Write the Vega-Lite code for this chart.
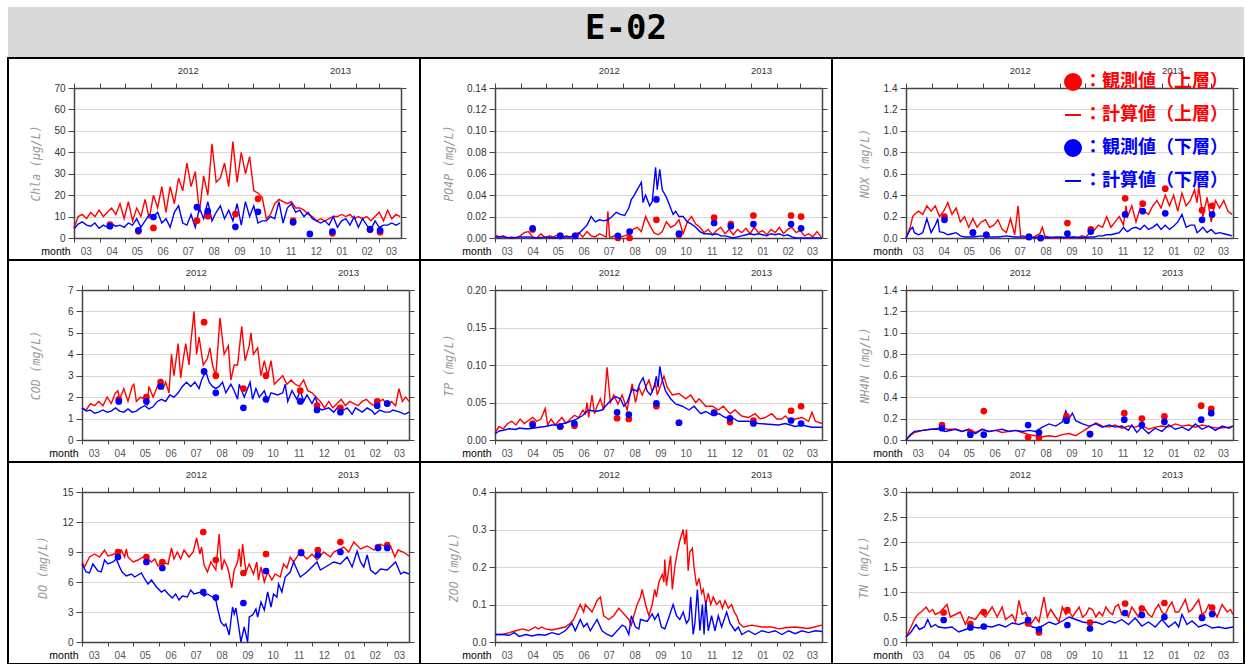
{
"$schema":"https://vega.github.io/schema/vega-lite/v6.json",
"padding":{"left":7,"top":7,"right":2,"bottom":1},
"background":"white",
"spacing":0,
"vconcat":[
{"width":1236,"height":50,"view":{"fill":"#d9d9d9"},"data":{"values":[{"t":"E-02"}]},"mark":{"type":"text","font":"DejaVu Sans Mono","fontWeight":"bold","fontSize":34,"baseline":"alphabetic","dy":7,"color":"#000"},"encoding":{"text":{"field":"t","type":"nominal"}}},
{"columns":3,"spacing":0,"bounds":"flush",
"resolve":{"scale":{"shape":"independent","fill":"independent","stroke":"independent"},"legend":{"shape":"independent","fill":"independent","stroke":"independent"}},
"concat":[
{"width":412,"height":202,"resolve":{"axis":{"x":"independent","y":"independent"}},"layer":[
{"data":{"name":"chla_u"},"mark":{"type":"line","color":"#ff0000","strokeWidth":1.4},"encoding":{"x":{"field":"day","type":"quantitative","scale":{"domain":[0,391],"range":[66,393],"nice":false,"zero":false},"axis":{"orient":"bottom","offset":-22,"values":[14,45,75,106,136,167,198,228,259,289,320,350,379],"labelExpr":"timeFormat(datetime(2012, 2, 1 + datum.value), '%m')","ticks":false,"tickSize":0,"domain":false,"labelPadding":8,"labelColor":"#555","title":"month","titleX":62}},"y":{"field":"v","type":"quantitative","scale":{"domain":[0,70],"range":[180,30],"nice":false,"zero":false},"axis":{"orient":"left","offset":-66,"values":[0,10,20,30,40,50,60,70],"format":"d","grid":true,"tickSize":6,"labelPadding":3,"title":"Chla (μg/L)","titleX":-38}}}},
{"data":{"name":"chla_l"},"mark":{"type":"line","color":"#0000ff","strokeWidth":1.4},"encoding":{"x":{"field":"day","type":"quantitative","axis":{"orient":"bottom","offset":-22,"values":[0,31,61,92,122,153,184,214,245,275,306,337,365],"labels":false,"tickSize":4,"title":null}},"y":{"field":"v","type":"quantitative","axis":{"orient":"right","offset":-19,"values":[0,10,20,30,40,50,60,70],"labels":false,"tickSize":5,"title":null}}}},
{"data":{"name":"chla_obs"},"mark":{"type":"point","filled":true,"color":"#ff0000","size":45,"opacity":1},"encoding":{"x":{"field":"day","type":"quantitative","axis":{"orient":"top","offset":-30,"values":[0,31,61,92,122,153,184,214,245,275,306,337,365],"labels":false,"tickSize":5,"title":null}},"y":{"field":"u","type":"quantitative","axis":null}}},
{"data":{"name":"chla_obs"},"mark":{"type":"point","filled":true,"color":"#0000ff","size":45,"opacity":1},"encoding":{"x":{"field":"day","type":"quantitative","axis":{"orient":"top","offset":-30,"values":[136,318],"labelExpr":"datum.value < 200 ? '2012' : '2013'","ticks":false,"domain":false,"labelPadding":13,"labelFontSize":9.5,"title":null}},"y":{"field":"l","type":"quantitative","axis":null}}}
]},
{"width":412,"height":202,"resolve":{"axis":{"x":"independent","y":"independent"}},"layer":[
{"data":{"name":"po4p_u"},"mark":{"type":"line","color":"#ff0000","strokeWidth":1.4},"encoding":{"x":{"field":"day","type":"quantitative","scale":{"domain":[0,391],"range":[75,402],"nice":false,"zero":false},"axis":{"orient":"bottom","offset":-22,"values":[14,45,75,106,136,167,198,228,259,289,320,350,379],"labelExpr":"timeFormat(datetime(2012, 2, 1 + datum.value), '%m')","ticks":false,"tickSize":0,"domain":false,"labelPadding":8,"labelColor":"#555","title":"month","titleX":71}},"y":{"field":"v","type":"quantitative","scale":{"domain":[0,0.14],"range":[180,30],"nice":false,"zero":false},"axis":{"orient":"left","offset":-75,"values":[0,0.02,0.04,0.06,0.08,0.1,0.12,0.14],"format":".2f","grid":true,"tickSize":6,"labelPadding":3,"title":"PO4P (mg/L)","titleX":-46}}}},
{"data":{"name":"po4p_l"},"mark":{"type":"line","color":"#0000ff","strokeWidth":1.4},"encoding":{"x":{"field":"day","type":"quantitative","axis":{"orient":"bottom","offset":-22,"values":[0,31,61,92,122,153,184,214,245,275,306,337,365],"labels":false,"tickSize":4,"title":null}},"y":{"field":"v","type":"quantitative","axis":{"orient":"right","offset":-10,"values":[0,0.02,0.04,0.06,0.08,0.1,0.12,0.14],"labels":false,"tickSize":5,"title":null}}}},
{"data":{"name":"po4p_obs"},"mark":{"type":"point","filled":true,"color":"#ff0000","size":45,"opacity":1},"encoding":{"x":{"field":"day","type":"quantitative","axis":{"orient":"top","offset":-30,"values":[0,31,61,92,122,153,184,214,245,275,306,337,365],"labels":false,"tickSize":5,"title":null}},"y":{"field":"u","type":"quantitative","axis":null}}},
{"data":{"name":"po4p_obs"},"mark":{"type":"point","filled":true,"color":"#0000ff","size":45,"opacity":1},"encoding":{"x":{"field":"day","type":"quantitative","axis":{"orient":"top","offset":-30,"values":[136,318],"labelExpr":"datum.value < 200 ? '2012' : '2013'","ticks":false,"domain":false,"labelPadding":13,"labelFontSize":9.5,"title":null}},"y":{"field":"l","type":"quantitative","axis":null}}}
]},
{"width":412,"height":202,"resolve":{"axis":{"x":"independent","y":"independent"}},"layer":[
{"data":{"name":"nox_u"},"mark":{"type":"line","color":"#ff0000","strokeWidth":1.4},"encoding":{"x":{"field":"day","type":"quantitative","scale":{"domain":[0,391],"range":[74,401],"nice":false,"zero":false},"axis":{"orient":"bottom","offset":-22,"values":[14,45,75,106,136,167,198,228,259,289,320,350,379],"labelExpr":"timeFormat(datetime(2012, 2, 1 + datum.value), '%m')","ticks":false,"tickSize":0,"domain":false,"labelPadding":8,"labelColor":"#555","title":"month","titleX":70}},"y":{"field":"v","type":"quantitative","scale":{"domain":[0,1.4],"range":[180,30],"nice":false,"zero":false},"axis":{"orient":"left","offset":-74,"values":[0,0.2,0.4,0.6,0.8,1.0,1.2,1.4],"format":".1f","grid":true,"tickSize":6,"labelPadding":3,"title":"NOX (mg/L)","titleX":-41}}}},
{"data":{"name":"nox_l"},"mark":{"type":"line","color":"#0000ff","strokeWidth":1.4},"encoding":{"x":{"field":"day","type":"quantitative","axis":{"orient":"bottom","offset":-22,"values":[0,31,61,92,122,153,184,214,245,275,306,337,365],"labels":false,"tickSize":4,"title":null}},"y":{"field":"v","type":"quantitative","axis":{"orient":"right","offset":-11,"values":[0,0.2,0.4,0.6,0.8,1.0,1.2,1.4],"labels":false,"tickSize":5,"title":null}}}},
{"data":{"name":"nox_obs"},"mark":{"type":"point","filled":true,"color":"#ff0000","size":45,"opacity":1},"encoding":{"x":{"field":"day","type":"quantitative","axis":{"orient":"top","offset":-30,"values":[0,31,61,92,122,153,184,214,245,275,306,337,365],"labels":false,"tickSize":5,"title":null}},"y":{"field":"u","type":"quantitative","axis":null}}},
{"data":{"name":"nox_obs"},"mark":{"type":"point","filled":true,"color":"#0000ff","size":45,"opacity":1},"encoding":{"x":{"field":"day","type":"quantitative","axis":{"orient":"top","offset":-30,"values":[136,318],"labelExpr":"datum.value < 200 ? '2012' : '2013'","ticks":false,"domain":false,"labelPadding":13,"labelFontSize":9.5,"title":null}},"y":{"field":"l","type":"quantitative","axis":null}}},
{"data":{"name":"legend"},"transform":[{"filter":"false"}],"mark":{"type":"point","filled":true,"opacity":1},"encoding":{
"shape":{"field":"k","type":"nominal","scale":{"domain":["：観測値（上層）","：計算値（上層）","：観測値（下層）","：計算値（下層）"],"range":["circle","stroke","circle","stroke"]},"legend":{"title":null,"orient":"none","legendX":232,"legendY":15,"symbolSize":256,"symbolStrokeWidth":2,"symbolOpacity":1,"labelFont":"Noto Sans CJK JP","labelFontSize":18,"labelFontWeight":"bold","labelColor":{"expr":"indexof(datum.label, '上層') >= 0 ? '#ff0000' : '#0000ff'"},"rowPadding":12,"labelOffset":2,"padding":0,"labelLimit":300}},
"fill":{"field":"k","type":"nominal","scale":{"domain":["：観測値（上層）","：計算値（上層）","：観測値（下層）","：計算値（下層）"],"range":["#ff0000","#ff0000","#0000ff","#0000ff"]},"legend":{"title":null,"orient":"none","legendX":232,"legendY":15,"symbolSize":256,"symbolStrokeWidth":2,"symbolOpacity":1,"labelFont":"Noto Sans CJK JP","labelFontSize":18,"labelFontWeight":"bold","labelColor":{"expr":"indexof(datum.label, '上層') >= 0 ? '#ff0000' : '#0000ff'"},"rowPadding":12,"labelOffset":2,"padding":0,"labelLimit":300}},
"stroke":{"field":"k","type":"nominal","scale":{"domain":["：観測値（上層）","：計算値（上層）","：観測値（下層）","：計算値（下層）"],"range":["#ff0000","#ff0000","#0000ff","#0000ff"]},"legend":{"title":null,"orient":"none","legendX":232,"legendY":15,"symbolSize":256,"symbolStrokeWidth":2,"symbolOpacity":1,"labelFont":"Noto Sans CJK JP","labelFontSize":18,"labelFontWeight":"bold","labelColor":{"expr":"indexof(datum.label, '上層') >= 0 ? '#ff0000' : '#0000ff'"},"rowPadding":12,"labelOffset":2,"padding":0,"labelLimit":300}}}}
]},
{"width":412,"height":202,"resolve":{"axis":{"x":"independent","y":"independent"}},"layer":[
{"data":{"name":"cod_u"},"mark":{"type":"line","color":"#ff0000","strokeWidth":1.4},"encoding":{"x":{"field":"day","type":"quantitative","scale":{"domain":[0,391],"range":[74,401],"nice":false,"zero":false},"axis":{"orient":"bottom","offset":-22,"values":[14,45,75,106,136,167,198,228,259,289,320,350,379],"labelExpr":"timeFormat(datetime(2012, 2, 1 + datum.value), '%m')","ticks":false,"tickSize":0,"domain":false,"labelPadding":8,"labelColor":"#555","title":"month","titleX":70}},"y":{"field":"v","type":"quantitative","scale":{"domain":[0,7],"range":[180,30],"nice":false,"zero":false},"axis":{"orient":"left","offset":-74,"values":[0,1,2,3,4,5,6,7],"format":"d","grid":true,"tickSize":6,"labelPadding":3,"title":"COD (mg/L)","titleX":-46}}}},
{"data":{"name":"cod_l"},"mark":{"type":"line","color":"#0000ff","strokeWidth":1.4},"encoding":{"x":{"field":"day","type":"quantitative","axis":{"orient":"bottom","offset":-22,"values":[0,31,61,92,122,153,184,214,245,275,306,337,365],"labels":false,"tickSize":4,"title":null}},"y":{"field":"v","type":"quantitative","axis":{"orient":"right","offset":-11,"values":[0,1,2,3,4,5,6,7],"labels":false,"tickSize":5,"title":null}}}},
{"data":{"name":"cod_obs"},"mark":{"type":"point","filled":true,"color":"#ff0000","size":45,"opacity":1},"encoding":{"x":{"field":"day","type":"quantitative","axis":{"orient":"top","offset":-30,"values":[0,31,61,92,122,153,184,214,245,275,306,337,365],"labels":false,"tickSize":5,"title":null}},"y":{"field":"u","type":"quantitative","axis":null}}},
{"data":{"name":"cod_obs"},"mark":{"type":"point","filled":true,"color":"#0000ff","size":45,"opacity":1},"encoding":{"x":{"field":"day","type":"quantitative","axis":{"orient":"top","offset":-30,"values":[136,318],"labelExpr":"datum.value < 200 ? '2012' : '2013'","ticks":false,"domain":false,"labelPadding":13,"labelFontSize":9.5,"title":null}},"y":{"field":"l","type":"quantitative","axis":null}}}
]},
{"width":412,"height":202,"resolve":{"axis":{"x":"independent","y":"independent"}},"layer":[
{"data":{"name":"tp_u"},"mark":{"type":"line","color":"#ff0000","strokeWidth":1.4},"encoding":{"x":{"field":"day","type":"quantitative","scale":{"domain":[0,391],"range":[75,402],"nice":false,"zero":false},"axis":{"orient":"bottom","offset":-22,"values":[14,45,75,106,136,167,198,228,259,289,320,350,379],"labelExpr":"timeFormat(datetime(2012, 2, 1 + datum.value), '%m')","ticks":false,"tickSize":0,"domain":false,"labelPadding":8,"labelColor":"#555","title":"month","titleX":71}},"y":{"field":"v","type":"quantitative","scale":{"domain":[0,0.2],"range":[180,30],"nice":false,"zero":false},"axis":{"orient":"left","offset":-75,"values":[0,0.05,0.1,0.15,0.2],"format":".2f","grid":true,"tickSize":6,"labelPadding":3,"title":"TP (mg/L)","titleX":-46}}}},
{"data":{"name":"tp_l"},"mark":{"type":"line","color":"#0000ff","strokeWidth":1.4},"encoding":{"x":{"field":"day","type":"quantitative","axis":{"orient":"bottom","offset":-22,"values":[0,31,61,92,122,153,184,214,245,275,306,337,365],"labels":false,"tickSize":4,"title":null}},"y":{"field":"v","type":"quantitative","axis":{"orient":"right","offset":-10,"values":[0,0.05,0.1,0.15,0.2],"labels":false,"tickSize":5,"title":null}}}},
{"data":{"name":"tp_obs"},"mark":{"type":"point","filled":true,"color":"#ff0000","size":45,"opacity":1},"encoding":{"x":{"field":"day","type":"quantitative","axis":{"orient":"top","offset":-30,"values":[0,31,61,92,122,153,184,214,245,275,306,337,365],"labels":false,"tickSize":5,"title":null}},"y":{"field":"u","type":"quantitative","axis":null}}},
{"data":{"name":"tp_obs"},"mark":{"type":"point","filled":true,"color":"#0000ff","size":45,"opacity":1},"encoding":{"x":{"field":"day","type":"quantitative","axis":{"orient":"top","offset":-30,"values":[136,318],"labelExpr":"datum.value < 200 ? '2012' : '2013'","ticks":false,"domain":false,"labelPadding":13,"labelFontSize":9.5,"title":null}},"y":{"field":"l","type":"quantitative","axis":null}}}
]},
{"width":412,"height":202,"resolve":{"axis":{"x":"independent","y":"independent"}},"layer":[
{"data":{"name":"nh4n_u"},"mark":{"type":"line","color":"#ff0000","strokeWidth":1.4},"encoding":{"x":{"field":"day","type":"quantitative","scale":{"domain":[0,391],"range":[74,401],"nice":false,"zero":false},"axis":{"orient":"bottom","offset":-22,"values":[14,45,75,106,136,167,198,228,259,289,320,350,379],"labelExpr":"timeFormat(datetime(2012, 2, 1 + datum.value), '%m')","ticks":false,"tickSize":0,"domain":false,"labelPadding":8,"labelColor":"#555","title":"month","titleX":70}},"y":{"field":"v","type":"quantitative","scale":{"domain":[0,1.4],"range":[180,30],"nice":false,"zero":false},"axis":{"orient":"left","offset":-74,"values":[0,0.2,0.4,0.6,0.8,1.0,1.2,1.4],"format":".1f","grid":true,"tickSize":6,"labelPadding":3,"title":"NH4N (mg/L)","titleX":-41}}}},
{"data":{"name":"nh4n_l"},"mark":{"type":"line","color":"#0000ff","strokeWidth":1.4},"encoding":{"x":{"field":"day","type":"quantitative","axis":{"orient":"bottom","offset":-22,"values":[0,31,61,92,122,153,184,214,245,275,306,337,365],"labels":false,"tickSize":4,"title":null}},"y":{"field":"v","type":"quantitative","axis":{"orient":"right","offset":-11,"values":[0,0.2,0.4,0.6,0.8,1.0,1.2,1.4],"labels":false,"tickSize":5,"title":null}}}},
{"data":{"name":"nh4n_obs"},"mark":{"type":"point","filled":true,"color":"#ff0000","size":45,"opacity":1},"encoding":{"x":{"field":"day","type":"quantitative","axis":{"orient":"top","offset":-30,"values":[0,31,61,92,122,153,184,214,245,275,306,337,365],"labels":false,"tickSize":5,"title":null}},"y":{"field":"u","type":"quantitative","axis":null}}},
{"data":{"name":"nh4n_obs"},"mark":{"type":"point","filled":true,"color":"#0000ff","size":45,"opacity":1},"encoding":{"x":{"field":"day","type":"quantitative","axis":{"orient":"top","offset":-30,"values":[136,318],"labelExpr":"datum.value < 200 ? '2012' : '2013'","ticks":false,"domain":false,"labelPadding":13,"labelFontSize":9.5,"title":null}},"y":{"field":"l","type":"quantitative","axis":null}}}
]},
{"width":412,"height":202,"resolve":{"axis":{"x":"independent","y":"independent"}},"layer":[
{"data":{"name":"do_u"},"mark":{"type":"line","color":"#ff0000","strokeWidth":1.4},"encoding":{"x":{"field":"day","type":"quantitative","scale":{"domain":[0,391],"range":[74,401],"nice":false,"zero":false},"axis":{"orient":"bottom","offset":-22,"values":[14,45,75,106,136,167,198,228,259,289,320,350,379],"labelExpr":"timeFormat(datetime(2012, 2, 1 + datum.value), '%m')","ticks":false,"tickSize":0,"domain":false,"labelPadding":8,"labelColor":"#555","title":"month","titleX":70}},"y":{"field":"v","type":"quantitative","scale":{"domain":[0,15],"range":[180,30],"nice":false,"zero":false},"axis":{"orient":"left","offset":-74,"values":[0,3,6,9,12,15],"format":"d","grid":true,"tickSize":6,"labelPadding":3,"title":"DO (mg/L)","titleX":-39}}}},
{"data":{"name":"do_l"},"mark":{"type":"line","color":"#0000ff","strokeWidth":1.4},"encoding":{"x":{"field":"day","type":"quantitative","axis":{"orient":"bottom","offset":-22,"values":[0,31,61,92,122,153,184,214,245,275,306,337,365],"labels":false,"tickSize":4,"title":null}},"y":{"field":"v","type":"quantitative","axis":{"orient":"right","offset":-11,"values":[0,3,6,9,12,15],"labels":false,"tickSize":5,"title":null}}}},
{"data":{"name":"do_obs"},"mark":{"type":"point","filled":true,"color":"#ff0000","size":45,"opacity":1},"encoding":{"x":{"field":"day","type":"quantitative","axis":{"orient":"top","offset":-30,"values":[0,31,61,92,122,153,184,214,245,275,306,337,365],"labels":false,"tickSize":5,"title":null}},"y":{"field":"u","type":"quantitative","axis":null}}},
{"data":{"name":"do_obs"},"mark":{"type":"point","filled":true,"color":"#0000ff","size":45,"opacity":1},"encoding":{"x":{"field":"day","type":"quantitative","axis":{"orient":"top","offset":-30,"values":[136,318],"labelExpr":"datum.value < 200 ? '2012' : '2013'","ticks":false,"domain":false,"labelPadding":13,"labelFontSize":9.5,"title":null}},"y":{"field":"l","type":"quantitative","axis":null}}}
]},
{"width":412,"height":202,"resolve":{"axis":{"x":"independent","y":"independent"}},"layer":[
{"data":{"name":"zoo_u"},"mark":{"type":"line","color":"#ff0000","strokeWidth":1.4},"encoding":{"x":{"field":"day","type":"quantitative","scale":{"domain":[0,391],"range":[75,402],"nice":false,"zero":false},"axis":{"orient":"bottom","offset":-22,"values":[14,45,75,106,136,167,198,228,259,289,320,350,379],"labelExpr":"timeFormat(datetime(2012, 2, 1 + datum.value), '%m')","ticks":false,"tickSize":0,"domain":false,"labelPadding":8,"labelColor":"#555","title":"month","titleX":71}},"y":{"field":"v","type":"quantitative","scale":{"domain":[0,0.4],"range":[180,30],"nice":false,"zero":false},"axis":{"orient":"left","offset":-75,"values":[0,0.1,0.2,0.3,0.4],"format":".1f","grid":true,"tickSize":6,"labelPadding":3,"title":"ZOO (mg/L)","titleX":-41}}}},
{"data":{"name":"zoo_l"},"mark":{"type":"line","color":"#0000ff","strokeWidth":1.4},"encoding":{"x":{"field":"day","type":"quantitative","axis":{"orient":"bottom","offset":-22,"values":[0,31,61,92,122,153,184,214,245,275,306,337,365],"labels":false,"tickSize":4,"title":null}},"y":{"field":"v","type":"quantitative","axis":{"orient":"right","offset":-10,"values":[0,0.1,0.2,0.3,0.4],"labels":false,"tickSize":5,"title":null}}}},
{"data":{"name":"zoo_u"},"mark":{"type":"line","color":"#ff0000","strokeWidth":0,"opacity":0},"encoding":{"x":{"field":"day","type":"quantitative","axis":{"orient":"top","offset":-30,"values":[0,31,61,92,122,153,184,214,245,275,306,337,365],"labels":false,"tickSize":5,"title":null}},"y":{"field":"v","type":"quantitative","axis":null}}},
{"data":{"name":"zoo_l"},"mark":{"type":"line","color":"#0000ff","strokeWidth":0,"opacity":0},"encoding":{"x":{"field":"day","type":"quantitative","axis":{"orient":"top","offset":-30,"values":[136,318],"labelExpr":"datum.value < 200 ? '2012' : '2013'","ticks":false,"domain":false,"labelPadding":13,"labelFontSize":9.5,"title":null}},"y":{"field":"v","type":"quantitative","axis":null}}}
]},
{"width":412,"height":202,"resolve":{"axis":{"x":"independent","y":"independent"}},"layer":[
{"data":{"name":"tn_u"},"mark":{"type":"line","color":"#ff0000","strokeWidth":1.4},"encoding":{"x":{"field":"day","type":"quantitative","scale":{"domain":[0,391],"range":[74,401],"nice":false,"zero":false},"axis":{"orient":"bottom","offset":-22,"values":[14,45,75,106,136,167,198,228,259,289,320,350,379],"labelExpr":"timeFormat(datetime(2012, 2, 1 + datum.value), '%m')","ticks":false,"tickSize":0,"domain":false,"labelPadding":8,"labelColor":"#555","title":"month","titleX":70}},"y":{"field":"v","type":"quantitative","scale":{"domain":[0,3],"range":[180,30],"nice":false,"zero":false},"axis":{"orient":"left","offset":-74,"values":[0,0.5,1.0,1.5,2.0,2.5,3.0],"format":".1f","grid":true,"tickSize":6,"labelPadding":3,"title":"TN (mg/L)","titleX":-42}}}},
{"data":{"name":"tn_l"},"mark":{"type":"line","color":"#0000ff","strokeWidth":1.4},"encoding":{"x":{"field":"day","type":"quantitative","axis":{"orient":"bottom","offset":-22,"values":[0,31,61,92,122,153,184,214,245,275,306,337,365],"labels":false,"tickSize":4,"title":null}},"y":{"field":"v","type":"quantitative","axis":{"orient":"right","offset":-11,"values":[0,0.5,1.0,1.5,2.0,2.5,3.0],"labels":false,"tickSize":5,"title":null}}}},
{"data":{"name":"tn_obs"},"mark":{"type":"point","filled":true,"color":"#ff0000","size":45,"opacity":1},"encoding":{"x":{"field":"day","type":"quantitative","axis":{"orient":"top","offset":-30,"values":[0,31,61,92,122,153,184,214,245,275,306,337,365],"labels":false,"tickSize":5,"title":null}},"y":{"field":"u","type":"quantitative","axis":null}}},
{"data":{"name":"tn_obs"},"mark":{"type":"point","filled":true,"color":"#0000ff","size":45,"opacity":1},"encoding":{"x":{"field":"day","type":"quantitative","axis":{"orient":"top","offset":-30,"values":[136,318],"labelExpr":"datum.value < 200 ? '2012' : '2013'","ticks":false,"domain":false,"labelPadding":13,"labelFontSize":9.5,"title":null}},"y":{"field":"l","type":"quantitative","axis":null}}}
]}
]}
],
"datasets":{
"legend":[{"k":"：観測値（上層）"},{"k":"：計算値（上層）"},{"k":"：観測値（下層）"},{"k":"：計算値（下層）"}],
"chla_u":[{"day":0,"v":4.5},{"day":5,"v":10},{"day":10,"v":11},{"day":15,"v":9},{"day":20,"v":12},{"day":25,"v":10},{"day":30,"v":13},{"day":35,"v":10},{"day":40,"v":12},{"day":45,"v":14},{"day":50,"v":11},{"day":55,"v":16},{"day":60,"v":9},{"day":65,"v":17},{"day":70,"v":8},{"day":75,"v":14},{"day":80,"v":10},{"day":85,"v":18},{"day":90,"v":9},{"day":95,"v":20},{"day":100,"v":14},{"day":105,"v":24},{"day":110,"v":12},{"day":115,"v":24},{"day":120,"v":16},{"day":125,"v":28},{"day":130,"v":22},{"day":135,"v":35},{"day":140,"v":24},{"day":145,"v":31},{"day":150,"v":12},{"day":155,"v":29},{"day":160,"v":20},{"day":165,"v":44},{"day":170,"v":26},{"day":175,"v":28},{"day":180,"v":35},{"day":185,"v":24},{"day":190,"v":45},{"day":195,"v":26},{"day":200,"v":40},{"day":205,"v":30},{"day":210,"v":38},{"day":215,"v":22},{"day":220,"v":21},{"day":225,"v":19},{"day":230,"v":9},{"day":235,"v":11},{"day":240,"v":16},{"day":245,"v":18},{"day":250,"v":17},{"day":255,"v":16},{"day":260,"v":17},{"day":265,"v":14},{"day":270,"v":14},{"day":275,"v":13},{"day":280,"v":11},{"day":285,"v":10},{"day":290,"v":8},{"day":295,"v":9},{"day":300,"v":8},{"day":305,"v":9},{"day":310,"v":10},{"day":315,"v":10},{"day":320,"v":11},{"day":325,"v":10},{"day":330,"v":11},{"day":335,"v":9},{"day":340,"v":10},{"day":345,"v":9},{"day":350,"v":10},{"day":355,"v":8},{"day":360,"v":10},{"day":365,"v":12},{"day":370,"v":8},{"day":375,"v":13},{"day":380,"v":9},{"day":385,"v":11},{"day":390,"v":10}],
"chla_l":[{"day":0,"v":4.3},{"day":5,"v":6.5},{"day":10,"v":7.5},{"day":15,"v":6},{"day":20,"v":5.5},{"day":25,"v":7},{"day":30,"v":4.5},{"day":35,"v":6},{"day":40,"v":5},{"day":45,"v":6.5},{"day":50,"v":5.5},{"day":55,"v":6},{"day":60,"v":5},{"day":65,"v":7},{"day":70,"v":6},{"day":75,"v":9},{"day":80,"v":5},{"day":85,"v":8},{"day":90,"v":11},{"day":95,"v":10},{"day":100,"v":12},{"day":105,"v":7},{"day":110,"v":9},{"day":115,"v":5},{"day":120,"v":12},{"day":125,"v":15},{"day":130,"v":7},{"day":135,"v":6},{"day":140,"v":11},{"day":145,"v":5},{"day":150,"v":14},{"day":155,"v":9},{"day":160,"v":17},{"day":165,"v":8},{"day":170,"v":12},{"day":175,"v":15},{"day":180,"v":9},{"day":185,"v":13},{"day":190,"v":8},{"day":195,"v":16},{"day":200,"v":6},{"day":205,"v":17},{"day":210,"v":10},{"day":215,"v":15},{"day":220,"v":7},{"day":225,"v":8},{"day":230,"v":8},{"day":235,"v":10},{"day":240,"v":9},{"day":245,"v":17},{"day":250,"v":7},{"day":255,"v":14},{"day":260,"v":16},{"day":265,"v":12},{"day":270,"v":13},{"day":275,"v":10},{"day":280,"v":12},{"day":285,"v":9},{"day":290,"v":8},{"day":295,"v":7},{"day":300,"v":8},{"day":305,"v":6},{"day":310,"v":10},{"day":315,"v":5},{"day":320,"v":8},{"day":325,"v":9},{"day":330,"v":6},{"day":335,"v":10},{"day":340,"v":5},{"day":345,"v":9},{"day":350,"v":6},{"day":355,"v":4},{"day":360,"v":8},{"day":365,"v":5},{"day":370,"v":6},{"day":375,"v":6},{"day":380,"v":7},{"day":385,"v":6},{"day":390,"v":7}],
"chla_obs":[{"day":43,"u":6.2,"l":5.5},{"day":77,"u":3.1,"l":3.6},{"day":95,"u":4.7,"l":9.8},{"day":147,"u":8.1,"l":14.4},{"day":160,"u":10.2,"l":12.5},{"day":193,"u":11.2,"l":5.2},{"day":220,"u":18.3,"l":12.2},{"day":262,"u":8.1,"l":7.3},{"day":282,"u":null,"l":1.9},{"day":309,"u":2.2,"l":3.0},{"day":354,"u":3.8,"l":4.1},{"day":366,"u":2.7,"l":3.6}],
"po4p_u":[{"day":0,"v":0.003},{"day":5,"v":0.001},{"day":10,"v":0.002},{"day":15,"v":0},{"day":20,"v":0.001},{"day":25,"v":0},{"day":30,"v":0.002},{"day":35,"v":0.005},{"day":40,"v":0.006},{"day":45,"v":0.001},{"day":50,"v":0},{"day":55,"v":0.004},{"day":60,"v":0},{"day":65,"v":0.002},{"day":70,"v":0.001},{"day":75,"v":0.003},{"day":80,"v":0},{"day":85,"v":0.002},{"day":90,"v":0.001},{"day":95,"v":0.003},{"day":100,"v":0.005},{"day":105,"v":0.001},{"day":110,"v":0.006},{"day":115,"v":0.002},{"day":120,"v":0.001},{"day":125,"v":0.004},{"day":130,"v":0.002},{"day":133,"v":0.001},{"day":135,"v":0.025},{"day":137,"v":0.001},{"day":140,"v":0.001},{"day":145,"v":0.003},{"day":150,"v":0.001},{"day":155,"v":0.002},{"day":160,"v":0.004},{"day":165,"v":0.008},{"day":170,"v":0.01},{"day":175,"v":0.006},{"day":180,"v":0.02},{"day":185,"v":0.012},{"day":190,"v":0.005},{"day":195,"v":0.003},{"day":200,"v":0.006},{"day":205,"v":0.015},{"day":210,"v":0.01},{"day":215,"v":0.012},{"day":220,"v":0.017},{"day":225,"v":0.004},{"day":230,"v":0.015},{"day":235,"v":0.02},{"day":240,"v":0.013},{"day":245,"v":0.01},{"day":250,"v":0.005},{"day":255,"v":0.008},{"day":260,"v":0.003},{"day":265,"v":0.007},{"day":270,"v":0.01},{"day":275,"v":0.004},{"day":280,"v":0.008},{"day":285,"v":0.003},{"day":290,"v":0.008},{"day":295,"v":0.005},{"day":300,"v":0.009},{"day":305,"v":0.004},{"day":310,"v":0.01},{"day":315,"v":0.005},{"day":320,"v":0.007},{"day":325,"v":0.003},{"day":330,"v":0.008},{"day":335,"v":0.005},{"day":340,"v":0.01},{"day":345,"v":0.004},{"day":350,"v":0.008},{"day":355,"v":0.01},{"day":360,"v":0.005},{"day":365,"v":0.007},{"day":370,"v":0.002},{"day":375,"v":0.004},{"day":380,"v":0.001},{"day":385,"v":0.006},{"day":390,"v":0.001}],
"po4p_l":[{"day":0,"v":0.001},{"day":10,"v":0.001},{"day":20,"v":0},{"day":30,"v":0.001},{"day":40,"v":0.001},{"day":50,"v":0},{"day":60,"v":0.001},{"day":70,"v":0},{"day":80,"v":0.001},{"day":90,"v":0.001},{"day":95,"v":0.002},{"day":100,"v":0.004},{"day":105,"v":0.008},{"day":110,"v":0.012},{"day":115,"v":0.02},{"day":120,"v":0.015},{"day":125,"v":0.017},{"day":130,"v":0.016},{"day":135,"v":0.017},{"day":140,"v":0.02},{"day":145,"v":0.024},{"day":150,"v":0.022},{"day":155,"v":0.021},{"day":160,"v":0.028},{"day":163,"v":0.036},{"day":165,"v":0.038},{"day":170,"v":0.045},{"day":175,"v":0.052},{"day":177,"v":0.033},{"day":180,"v":0.04},{"day":185,"v":0.03},{"day":188,"v":0.034},{"day":192,"v":0.066},{"day":194,"v":0.045},{"day":197,"v":0.064},{"day":200,"v":0.045},{"day":205,"v":0.038},{"day":210,"v":0.028},{"day":213,"v":0.022},{"day":216,"v":0.025},{"day":220,"v":0.02},{"day":225,"v":0.02},{"day":230,"v":0.015},{"day":235,"v":0.013},{"day":240,"v":0.01},{"day":245,"v":0.006},{"day":250,"v":0.004},{"day":255,"v":0.004},{"day":260,"v":0.003},{"day":265,"v":0.004},{"day":270,"v":0.002},{"day":275,"v":0.002},{"day":280,"v":0.001},{"day":285,"v":0},{"day":290,"v":0.001},{"day":295,"v":0.002},{"day":300,"v":0.003},{"day":305,"v":0.004},{"day":310,"v":0.003},{"day":315,"v":0.004},{"day":320,"v":0.003},{"day":325,"v":0.002},{"day":330,"v":0.004},{"day":335,"v":0.003},{"day":340,"v":0.004},{"day":345,"v":0.002},{"day":350,"v":0.003},{"day":355,"v":0.001},{"day":360,"v":0},{"day":375,"v":0},{"day":391,"v":0}],
"po4p_obs":[{"day":45,"u":0.008,"l":0.009},{"day":78,"u":0.002,"l":0.002},{"day":96,"u":0.002,"l":0.002},{"day":147,"u":0.0,"l":0.002},{"day":161,"u":0.0,"l":0.006},{"day":193,"u":0.017,"l":0.036},{"day":220,"u":0.003,"l":0.004},{"day":262,"u":0.019,"l":0.014},{"day":282,"u":0.013,"l":0.011},{"day":309,"u":0.021,"l":0.013},{"day":354,"u":0.021,"l":0.013},{"day":366,"u":0.02,"l":0.009}],
"nox_u":[{"day":0,"v":0},{"day":5,"v":0.1},{"day":8,"v":0.2},{"day":10,"v":0.22},{"day":15,"v":0.25},{"day":20,"v":0.22},{"day":25,"v":0.3},{"day":30,"v":0.25},{"day":35,"v":0.3},{"day":40,"v":0.2},{"day":45,"v":0.25},{"day":50,"v":0.33},{"day":55,"v":0.22},{"day":60,"v":0.28},{"day":65,"v":0.15},{"day":70,"v":0.2},{"day":75,"v":0.1},{"day":80,"v":0.18},{"day":85,"v":0.1},{"day":90,"v":0.15},{"day":95,"v":0.17},{"day":100,"v":0.1},{"day":105,"v":0.12},{"day":110,"v":0.17},{"day":115,"v":0.08},{"day":120,"v":0.05},{"day":125,"v":0.18},{"day":130,"v":0.03},{"day":134,"v":0.3},{"day":137,"v":0.02},{"day":140,"v":0.02},{"day":145,"v":0.01},{"day":150,"v":0},{"day":155,"v":0.02},{"day":160,"v":0.04},{"day":163,"v":0.1},{"day":166,"v":0.02},{"day":170,"v":0.01},{"day":175,"v":0},{"day":180,"v":0},{"day":185,"v":0.01},{"day":190,"v":0},{"day":195,"v":0},{"day":200,"v":0.01},{"day":205,"v":0},{"day":210,"v":0.02},{"day":215,"v":0.01},{"day":220,"v":0.05},{"day":225,"v":0.07},{"day":230,"v":0.12},{"day":235,"v":0.1},{"day":240,"v":0.2},{"day":245,"v":0.1},{"day":250,"v":0.15},{"day":255,"v":0.2},{"day":260,"v":0.12},{"day":263,"v":0.3},{"day":265,"v":0.2},{"day":270,"v":0.3},{"day":275,"v":0.15},{"day":280,"v":0.28},{"day":285,"v":0.25},{"day":290,"v":0.22},{"day":295,"v":0.3},{"day":300,"v":0.35},{"day":305,"v":0.28},{"day":310,"v":0.4},{"day":315,"v":0.3},{"day":320,"v":0.4},{"day":325,"v":0.25},{"day":330,"v":0.42},{"day":335,"v":0.3},{"day":340,"v":0.35},{"day":345,"v":0.45},{"day":348,"v":0.33},{"day":350,"v":0.48},{"day":355,"v":0.2},{"day":360,"v":0.38},{"day":365,"v":0.15},{"day":370,"v":0.35},{"day":375,"v":0.28},{"day":380,"v":0.35},{"day":385,"v":0.25},{"day":390,"v":0.22}],
"nox_l":[{"day":0,"v":0},{"day":5,"v":0.08},{"day":8,"v":0.1},{"day":10,"v":0.05},{"day":15,"v":0.03},{"day":20,"v":0.05},{"day":25,"v":0.18},{"day":30,"v":0.05},{"day":35,"v":0.12},{"day":38,"v":0.18},{"day":40,"v":0.06},{"day":45,"v":0.05},{"day":50,"v":0.03},{"day":55,"v":0.04},{"day":60,"v":0.05},{"day":65,"v":0.02},{"day":70,"v":0.01},{"day":80,"v":0.01},{"day":90,"v":0.02},{"day":100,"v":0.01},{"day":110,"v":0.01},{"day":120,"v":0.02},{"day":130,"v":0.01},{"day":140,"v":0.01},{"day":150,"v":0.005},{"day":160,"v":0.01},{"day":170,"v":0.005},{"day":180,"v":0.01},{"day":190,"v":0.005},{"day":200,"v":0.01},{"day":210,"v":0.005},{"day":220,"v":0.01},{"day":225,"v":0.01},{"day":230,"v":0.02},{"day":235,"v":0.02},{"day":240,"v":0.03},{"day":245,"v":0.03},{"day":250,"v":0.04},{"day":255,"v":0.05},{"day":260,"v":0.1},{"day":263,"v":0.07},{"day":265,"v":0.06},{"day":270,"v":0.09},{"day":275,"v":0.1},{"day":280,"v":0.08},{"day":285,"v":0.12},{"day":290,"v":0.08},{"day":295,"v":0.1},{"day":300,"v":0.13},{"day":305,"v":0.08},{"day":310,"v":0.12},{"day":315,"v":0.08},{"day":320,"v":0.11},{"day":325,"v":0.15},{"day":330,"v":0.22},{"day":335,"v":0.1},{"day":340,"v":0.12},{"day":345,"v":0.12},{"day":348,"v":0.05},{"day":350,"v":0.06},{"day":355,"v":0.1},{"day":360,"v":0.05},{"day":365,"v":0.08},{"day":370,"v":0.04},{"day":375,"v":0.05},{"day":380,"v":0.04},{"day":385,"v":0.03},{"day":390,"v":0.02}],
"nox_obs":[{"day":46,"u":0.2,"l":0.17},{"day":80,"u":0.05,"l":0.05},{"day":96,"u":0.03,"l":0.03},{"day":147,"u":0.01,"l":0.01},{"day":161,"u":0.0,"l":0.0},{"day":193,"u":0.14,"l":0.04},{"day":221,"u":0.08,"l":0.06},{"day":262,"u":0.37,"l":0.22},{"day":283,"u":0.32,"l":0.25},{"day":310,"u":0.46,"l":0.23},{"day":354,"u":0.26,"l":0.17},{"day":366,"u":0.3,"l":0.22}],
"cod_u":[{"day":0,"v":1.5},{"day":5,"v":1.4},{"day":10,"v":1.7},{"day":15,"v":1.6},{"day":20,"v":1.8},{"day":25,"v":1.6},{"day":30,"v":2.0},{"day":35,"v":1.7},{"day":40,"v":2.2},{"day":43,"v":2.3},{"day":45,"v":1.9},{"day":50,"v":2.4},{"day":55,"v":1.8},{"day":60,"v":2.5},{"day":62,"v":2.6},{"day":65,"v":1.8},{"day":70,"v":2.0},{"day":75,"v":1.9},{"day":78,"v":1.6},{"day":80,"v":2.5},{"day":85,"v":2.0},{"day":90,"v":2.5},{"day":94,"v":2.8},{"day":97,"v":2.4},{"day":100,"v":2.7},{"day":104,"v":2.2},{"day":107,"v":4.0},{"day":110,"v":3.0},{"day":115,"v":4.5},{"day":118,"v":2.9},{"day":120,"v":3.5},{"day":124,"v":4.5},{"day":128,"v":3.5},{"day":130,"v":4.5},{"day":134,"v":6.0},{"day":137,"v":4.0},{"day":140,"v":4.8},{"day":145,"v":3.5},{"day":150,"v":3.8},{"day":153,"v":4.3},{"day":156,"v":3.5},{"day":160,"v":3.0},{"day":165,"v":5.7},{"day":170,"v":4.0},{"day":175,"v":4.4},{"day":178,"v":2.8},{"day":182,"v":3.5},{"day":186,"v":3.5},{"day":191,"v":5.3},{"day":195,"v":3.7},{"day":200,"v":4.4},{"day":202,"v":5.0},{"day":205,"v":4.0},{"day":210,"v":4.3},{"day":214,"v":3.0},{"day":218,"v":3.7},{"day":222,"v":3.0},{"day":226,"v":3.7},{"day":230,"v":2.6},{"day":235,"v":2.8},{"day":240,"v":3.0},{"day":245,"v":2.6},{"day":250,"v":2.8},{"day":255,"v":2.6},{"day":260,"v":2.5},{"day":265,"v":2.8},{"day":270,"v":2.3},{"day":275,"v":2.2},{"day":280,"v":2.0},{"day":285,"v":1.8},{"day":290,"v":1.5},{"day":295,"v":1.8},{"day":300,"v":1.5},{"day":305,"v":1.7},{"day":310,"v":1.9},{"day":315,"v":1.6},{"day":320,"v":1.8},{"day":325,"v":1.7},{"day":330,"v":1.6},{"day":335,"v":1.8},{"day":340,"v":1.9},{"day":345,"v":1.7},{"day":350,"v":1.6},{"day":355,"v":1.8},{"day":360,"v":1.9},{"day":365,"v":1.6},{"day":370,"v":1.8},{"day":375,"v":1.6},{"day":379,"v":2.4},{"day":383,"v":1.8},{"day":387,"v":2.0},{"day":391,"v":1.8}],
"cod_l":[{"day":0,"v":1.5},{"day":5,"v":1.35},{"day":10,"v":1.4},{"day":15,"v":1.25},{"day":20,"v":1.3},{"day":25,"v":1.4},{"day":30,"v":1.3},{"day":35,"v":1.35},{"day":40,"v":1.5},{"day":45,"v":1.35},{"day":50,"v":1.3},{"day":55,"v":1.45},{"day":60,"v":1.3},{"day":65,"v":1.35},{"day":70,"v":1.5},{"day":75,"v":1.6},{"day":80,"v":1.45},{"day":85,"v":1.55},{"day":90,"v":1.8},{"day":95,"v":1.9},{"day":100,"v":1.8},{"day":105,"v":2.1},{"day":110,"v":2.0},{"day":115,"v":2.2},{"day":120,"v":2.5},{"day":125,"v":2.7},{"day":130,"v":2.5},{"day":135,"v":2.7},{"day":140,"v":2.4},{"day":143,"v":2.8},{"day":148,"v":3.2},{"day":152,"v":2.7},{"day":156,"v":2.5},{"day":160,"v":2.4},{"day":164,"v":2.5},{"day":168,"v":2.7},{"day":172,"v":2.2},{"day":178,"v":2.6},{"day":182,"v":2.3},{"day":186,"v":1.9},{"day":188,"v":2.6},{"day":194,"v":2.0},{"day":198,"v":2.4},{"day":201,"v":2.7},{"day":204,"v":1.9},{"day":208,"v":2.4},{"day":212,"v":2.0},{"day":218,"v":2.3},{"day":222,"v":1.8},{"day":226,"v":2.2},{"day":234,"v":2.1},{"day":240,"v":2.2},{"day":243,"v":2.6},{"day":246,"v":1.8},{"day":251,"v":2.3},{"day":257,"v":1.9},{"day":261,"v":2.3},{"day":265,"v":1.8},{"day":269,"v":2.1},{"day":275,"v":1.7},{"day":279,"v":2.0},{"day":283,"v":1.5},{"day":287,"v":1.4},{"day":295,"v":1.5},{"day":301,"v":1.3},{"day":307,"v":1.6},{"day":313,"v":1.4},{"day":317,"v":1.5},{"day":323,"v":1.2},{"day":327,"v":1.5},{"day":335,"v":1.3},{"day":341,"v":1.5},{"day":347,"v":1.35},{"day":350,"v":1.2},{"day":356,"v":1.4},{"day":362,"v":1.3},{"day":368,"v":1.3},{"day":372,"v":1.4},{"day":380,"v":1.3},{"day":386,"v":1.2},{"day":391,"v":1.3}],
"cod_obs":[{"day":44,"u":1.9,"l":1.8},{"day":77,"u":2.0,"l":1.8},{"day":94,"u":2.7,"l":2.5},{"day":146,"u":5.5,"l":3.2},{"day":160,"u":3.0,"l":2.2},{"day":193,"u":2.4,"l":1.5},{"day":220,"u":3.0,"l":1.9},{"day":261,"u":2.3,"l":1.8},{"day":281,"u":1.6,"l":1.4},{"day":309,"u":1.5,"l":1.3},{"day":353,"u":1.8,"l":1.6},{"day":365,"u":1.7,"l":1.7}],
"tp_u":[{"day":0,"v":0.01},{"day":5,"v":0.018},{"day":10,"v":0.015},{"day":15,"v":0.022},{"day":20,"v":0.025},{"day":25,"v":0.02},{"day":30,"v":0.028},{"day":35,"v":0.022},{"day":40,"v":0.026},{"day":45,"v":0.03},{"day":50,"v":0.025},{"day":55,"v":0.028},{"day":60,"v":0.042},{"day":63,"v":0.02},{"day":67,"v":0.028},{"day":72,"v":0.02},{"day":80,"v":0.03},{"day":85,"v":0.022},{"day":90,"v":0.028},{"day":95,"v":0.033},{"day":100,"v":0.03},{"day":105,"v":0.04},{"day":108,"v":0.035},{"day":110,"v":0.05},{"day":112,"v":0.03},{"day":116,"v":0.06},{"day":119,"v":0.035},{"day":122,"v":0.045},{"day":126,"v":0.055},{"day":130,"v":0.04},{"day":134,"v":0.097},{"day":138,"v":0.05},{"day":142,"v":0.06},{"day":147,"v":0.048},{"day":152,"v":0.06},{"day":158,"v":0.04},{"day":164,"v":0.075},{"day":168,"v":0.05},{"day":172,"v":0.07},{"day":176,"v":0.06},{"day":184,"v":0.08},{"day":188,"v":0.065},{"day":192,"v":0.075},{"day":194,"v":0.06},{"day":202,"v":0.085},{"day":206,"v":0.07},{"day":212,"v":0.06},{"day":220,"v":0.062},{"day":228,"v":0.055},{"day":234,"v":0.06},{"day":240,"v":0.05},{"day":244,"v":0.055},{"day":252,"v":0.045},{"day":260,"v":0.045},{"day":267,"v":0.04},{"day":273,"v":0.045},{"day":281,"v":0.035},{"day":287,"v":0.04},{"day":295,"v":0.032},{"day":303,"v":0.03},{"day":311,"v":0.035},{"day":317,"v":0.028},{"day":323,"v":0.03},{"day":331,"v":0.035},{"day":337,"v":0.028},{"day":343,"v":0.028},{"day":347,"v":0.032},{"day":353,"v":0.026},{"day":359,"v":0.028},{"day":367,"v":0.03},{"day":375,"v":0.025},{"day":379,"v":0.037},{"day":383,"v":0.025},{"day":391,"v":0.022}],
"tp_l":[{"day":0,"v":0.008},{"day":5,"v":0.012},{"day":10,"v":0.013},{"day":17,"v":0.015},{"day":25,"v":0.014},{"day":29,"v":0.016},{"day":36,"v":0.015},{"day":41,"v":0.015},{"day":53,"v":0.017},{"day":60,"v":0.018},{"day":68,"v":0.02},{"day":76,"v":0.02},{"day":88,"v":0.024},{"day":96,"v":0.027},{"day":104,"v":0.032},{"day":112,"v":0.04},{"day":120,"v":0.038},{"day":128,"v":0.04},{"day":136,"v":0.05},{"day":144,"v":0.058},{"day":150,"v":0.055},{"day":154,"v":0.045},{"day":158,"v":0.05},{"day":164,"v":0.068},{"day":170,"v":0.065},{"day":173,"v":0.075},{"day":177,"v":0.083},{"day":182,"v":0.065},{"day":186,"v":0.06},{"day":190,"v":0.07},{"day":193,"v":0.085},{"day":195,"v":0.07},{"day":197,"v":0.098},{"day":200,"v":0.08},{"day":204,"v":0.065},{"day":210,"v":0.055},{"day":216,"v":0.048},{"day":224,"v":0.045},{"day":232,"v":0.04},{"day":238,"v":0.045},{"day":246,"v":0.035},{"day":252,"v":0.038},{"day":260,"v":0.033},{"day":268,"v":0.035},{"day":275,"v":0.03},{"day":283,"v":0.03},{"day":291,"v":0.025},{"day":303,"v":0.025},{"day":315,"v":0.022},{"day":327,"v":0.021},{"day":339,"v":0.02},{"day":347,"v":0.022},{"day":359,"v":0.018},{"day":367,"v":0.02},{"day":379,"v":0.017},{"day":391,"v":0.017}],
"tp_obs":[{"day":45,"u":0.022,"l":0.02},{"day":78,"u":0.018,"l":0.018},{"day":95,"u":0.019,"l":0.022},{"day":146,"u":0.029,"l":0.037},{"day":160,"u":0.028,"l":0.034},{"day":193,"u":0.045,"l":0.049},{"day":220,"u":0.023,"l":0.023},{"day":262,"u":0.037,"l":0.036},{"day":281,"u":0.024,"l":0.029},{"day":309,"u":0.026,"l":0.022},{"day":354,"u":0.039,"l":0.026},{"day":366,"u":0.045,"l":0.022}],
"nh4n_u":[{"day":0,"v":0},{"day":5,"v":0.04},{"day":10,"v":0.07},{"day":20,"v":0.09},{"day":30,"v":0.1},{"day":40,"v":0.11},{"day":50,"v":0.1},{"day":60,"v":0.1},{"day":67,"v":0.08},{"day":75,"v":0.1},{"day":83,"v":0.07},{"day":91,"v":0.1},{"day":99,"v":0.08},{"day":107,"v":0.09},{"day":115,"v":0.07},{"day":123,"v":0.08},{"day":131,"v":0.09},{"day":139,"v":0.07},{"day":147,"v":0.05},{"day":155,"v":0.04},{"day":163,"v":0.03},{"day":171,"v":0.04},{"day":179,"v":0.03},{"day":187,"v":0.05},{"day":195,"v":0.06},{"day":203,"v":0.04},{"day":209,"v":0.07},{"day":215,"v":0.1},{"day":223,"v":0.14},{"day":227,"v":0.16},{"day":235,"v":0.13},{"day":243,"v":0.12},{"day":250,"v":0.14},{"day":258,"v":0.11},{"day":266,"v":0.13},{"day":274,"v":0.12},{"day":282,"v":0.14},{"day":290,"v":0.1},{"day":298,"v":0.12},{"day":306,"v":0.13},{"day":314,"v":0.12},{"day":322,"v":0.15},{"day":330,"v":0.13},{"day":338,"v":0.14},{"day":346,"v":0.12},{"day":354,"v":0.14},{"day":366,"v":0.12},{"day":374,"v":0.11},{"day":386,"v":0.12},{"day":391,"v":0.13}],
"nh4n_l":[{"day":0,"v":0},{"day":5,"v":0.05},{"day":10,"v":0.08},{"day":20,"v":0.09},{"day":30,"v":0.1},{"day":40,"v":0.1},{"day":47,"v":0.08},{"day":59,"v":0.1},{"day":67,"v":0.08},{"day":75,"v":0.1},{"day":83,"v":0.06},{"day":91,"v":0.1},{"day":99,"v":0.08},{"day":107,"v":0.09},{"day":115,"v":0.1},{"day":123,"v":0.08},{"day":131,"v":0.09},{"day":139,"v":0.08},{"day":147,"v":0.09},{"day":155,"v":0.08},{"day":163,"v":0.12},{"day":171,"v":0.15},{"day":179,"v":0.13},{"day":187,"v":0.17},{"day":191,"v":0.27},{"day":195,"v":0.2},{"day":199,"v":0.25},{"day":203,"v":0.18},{"day":211,"v":0.15},{"day":219,"v":0.13},{"day":227,"v":0.15},{"day":235,"v":0.12},{"day":243,"v":0.14},{"day":250,"v":0.12},{"day":258,"v":0.13},{"day":266,"v":0.09},{"day":270,"v":0.14},{"day":276,"v":0.07},{"day":282,"v":0.12},{"day":290,"v":0.06},{"day":298,"v":0.11},{"day":306,"v":0.08},{"day":314,"v":0.14},{"day":322,"v":0.1},{"day":330,"v":0.12},{"day":338,"v":0.09},{"day":346,"v":0.15},{"day":354,"v":0.1},{"day":362,"v":0.13},{"day":370,"v":0.09},{"day":378,"v":0.13},{"day":386,"v":0.11},{"day":391,"v":0.13}],
"nh4n_obs":[{"day":43,"u":0.14,"l":0.11},{"day":77,"u":0.07,"l":0.05},{"day":93,"u":0.27,"l":0.05},{"day":146,"u":0.025,"l":0.14},{"day":159,"u":0.02,"l":0.07},{"day":192,"u":0.22,"l":0.18},{"day":220,"u":0.055,"l":0.055},{"day":261,"u":0.25,"l":0.19},{"day":282,"u":0.2,"l":0.14},{"day":309,"u":0.22,"l":0.17},{"day":353,"u":0.32,"l":0.19},{"day":365,"u":0.29,"l":0.25}],
"do_u":[{"day":0,"v":8.0},{"day":3,"v":7.5},{"day":9,"v":8.5},{"day":15,"v":8.8},{"day":21,"v":8.5},{"day":27,"v":9.2},{"day":31,"v":8.6},{"day":39,"v":8.8},{"day":47,"v":9.2},{"day":51,"v":8.5},{"day":53,"v":9.3},{"day":55,"v":8.5},{"day":61,"v":8.0},{"day":67,"v":8.2},{"day":75,"v":8.6},{"day":83,"v":8.0},{"day":87,"v":8.3},{"day":91,"v":7.6},{"day":95,"v":8.0},{"day":103,"v":7.8},{"day":107,"v":9.4},{"day":110,"v":8.3},{"day":114,"v":9.0},{"day":118,"v":8.3},{"day":122,"v":9.2},{"day":128,"v":8.5},{"day":133,"v":9.0},{"day":137,"v":10.4},{"day":141,"v":8.8},{"day":143,"v":9.5},{"day":146,"v":7.7},{"day":150,"v":7.0},{"day":154,"v":8.0},{"day":160,"v":7.2},{"day":164,"v":10.8},{"day":167,"v":7.2},{"day":170,"v":8.2},{"day":174,"v":7.5},{"day":176,"v":6.8},{"day":179,"v":5.4},{"day":182,"v":7.2},{"day":186,"v":8.0},{"day":188,"v":9.3},{"day":190,"v":7.5},{"day":192,"v":9.8},{"day":196,"v":7.0},{"day":200,"v":7.8},{"day":205,"v":6.8},{"day":209,"v":8.0},{"day":211,"v":6.2},{"day":214,"v":7.5},{"day":218,"v":6.0},{"day":222,"v":7.0},{"day":227,"v":6.2},{"day":231,"v":6.8},{"day":237,"v":6.5},{"day":241,"v":7.8},{"day":245,"v":7.4},{"day":249,"v":8.5},{"day":253,"v":8.0},{"day":261,"v":9.0},{"day":269,"v":8.3},{"day":275,"v":8.8},{"day":281,"v":8.2},{"day":289,"v":9.0},{"day":297,"v":8.5},{"day":301,"v":9.0},{"day":313,"v":9.5},{"day":319,"v":9.0},{"day":325,"v":10.0},{"day":333,"v":9.3},{"day":341,"v":9.6},{"day":349,"v":9.2},{"day":357,"v":9.8},{"day":365,"v":9.4},{"day":369,"v":9.6},{"day":374,"v":8.5},{"day":378,"v":9.2},{"day":384,"v":9.0},{"day":391,"v":8.6}],
"do_l":[{"day":0,"v":7.8},{"day":5,"v":7.0},{"day":9,"v":6.9},{"day":13,"v":7.8},{"day":19,"v":7.1},{"day":23,"v":7.0},{"day":27,"v":8.2},{"day":31,"v":7.8},{"day":37,"v":8.0},{"day":41,"v":8.3},{"day":45,"v":7.5},{"day":48,"v":7.0},{"day":53,"v":6.6},{"day":59,"v":6.8},{"day":63,"v":6.5},{"day":71,"v":6.9},{"day":75,"v":6.3},{"day":79,"v":5.8},{"day":83,"v":6.2},{"day":89,"v":5.5},{"day":95,"v":5.0},{"day":99,"v":5.2},{"day":103,"v":4.8},{"day":108,"v":4.4},{"day":112,"v":4.8},{"day":116,"v":4.2},{"day":120,"v":4.6},{"day":126,"v":4.5},{"day":130,"v":5.2},{"day":134,"v":4.8},{"day":142,"v":5.0},{"day":146,"v":4.6},{"day":150,"v":4.8},{"day":156,"v":4.5},{"day":160,"v":4.2},{"day":162,"v":3.4},{"day":166,"v":2.0},{"day":170,"v":1.6},{"day":172,"v":1.8},{"day":176,"v":0.7},{"day":180,"v":3.5},{"day":182,"v":2.8},{"day":184,"v":3.4},{"day":188,"v":1.2},{"day":190,"v":0.0},{"day":194,"v":1.5},{"day":198,"v":0.0},{"day":200,"v":2.5},{"day":204,"v":2.7},{"day":208,"v":3.3},{"day":210,"v":2.5},{"day":214,"v":4.0},{"day":218,"v":3.2},{"day":222,"v":5.0},{"day":226,"v":3.5},{"day":229,"v":4.8},{"day":233,"v":4.5},{"day":235,"v":5.8},{"day":239,"v":5.0},{"day":243,"v":6.5},{"day":249,"v":7.0},{"day":253,"v":8.0},{"day":261,"v":6.5},{"day":269,"v":7.0},{"day":275,"v":7.5},{"day":281,"v":8.0},{"day":285,"v":7.2},{"day":293,"v":7.6},{"day":301,"v":8.0},{"day":309,"v":7.8},{"day":317,"v":8.5},{"day":323,"v":7.5},{"day":329,"v":9.1},{"day":333,"v":8.0},{"day":337,"v":7.5},{"day":341,"v":8.7},{"day":345,"v":7.2},{"day":351,"v":6.8},{"day":357,"v":7.3},{"day":365,"v":7.2},{"day":375,"v":8.0},{"day":381,"v":6.8},{"day":385,"v":7.0},{"day":391,"v":6.8}],
"do_obs":[{"day":43,"u":9.0,"l":8.5},{"day":77,"u":8.5,"l":8.0},{"day":96,"u":8.0,"l":7.4},{"day":145,"u":11.0,"l":5.0},{"day":160,"u":8.2,"l":4.45},{"day":193,"u":6.9,"l":3.9},{"day":220,"u":8.8,"l":7.1},{"day":262,"u":9.0,"l":8.9},{"day":282,"u":9.2,"l":8.7},{"day":309,"u":10.0,"l":9.0},{"day":354,"u":9.5,"l":9.4},{"day":365,"u":9.7,"l":9.4}],
"zoo_u":[{"day":0,"v":0.02},{"day":9,"v":0.02},{"day":17,"v":0.025},{"day":25,"v":0.03},{"day":33,"v":0.035},{"day":40,"v":0.03},{"day":48,"v":0.04},{"day":52,"v":0.035},{"day":56,"v":0.04},{"day":60,"v":0.035},{"day":68,"v":0.032},{"day":76,"v":0.036},{"day":84,"v":0.04},{"day":90,"v":0.05},{"day":94,"v":0.06},{"day":98,"v":0.08},{"day":102,"v":0.1},{"day":106,"v":0.08},{"day":108,"v":0.1},{"day":112,"v":0.09},{"day":116,"v":0.08},{"day":122,"v":0.11},{"day":126,"v":0.12},{"day":130,"v":0.07},{"day":136,"v":0.06},{"day":142,"v":0.07},{"day":148,"v":0.09},{"day":152,"v":0.08},{"day":156,"v":0.07},{"day":160,"v":0.06},{"day":163,"v":0.045},{"day":166,"v":0.07},{"day":170,"v":0.1},{"day":174,"v":0.12},{"day":176,"v":0.14},{"day":180,"v":0.1},{"day":184,"v":0.07},{"day":188,"v":0.1},{"day":191,"v":0.14},{"day":193,"v":0.12},{"day":196,"v":0.16},{"day":200,"v":0.18},{"day":202,"v":0.16},{"day":203,"v":0.22},{"day":205,"v":0.15},{"day":208,"v":0.2},{"day":210,"v":0.23},{"day":212,"v":0.14},{"day":215,"v":0.2},{"day":218,"v":0.24},{"day":221,"v":0.27},{"day":225,"v":0.3},{"day":227,"v":0.26},{"day":229,"v":0.3},{"day":231,"v":0.19},{"day":233,"v":0.24},{"day":236,"v":0.25},{"day":238,"v":0.2},{"day":241,"v":0.15},{"day":244,"v":0.17},{"day":247,"v":0.13},{"day":249,"v":0.14},{"day":252,"v":0.1},{"day":255,"v":0.13},{"day":258,"v":0.1},{"day":261,"v":0.12},{"day":265,"v":0.1},{"day":269,"v":0.11},{"day":272,"v":0.09},{"day":275,"v":0.11},{"day":279,"v":0.09},{"day":283,"v":0.1},{"day":286,"v":0.08},{"day":289,"v":0.07},{"day":292,"v":0.05},{"day":297,"v":0.04},{"day":307,"v":0.045},{"day":319,"v":0.04},{"day":331,"v":0.04},{"day":339,"v":0.035},{"day":347,"v":0.038},{"day":359,"v":0.04},{"day":366,"v":0.038},{"day":374,"v":0.036},{"day":382,"v":0.04},{"day":391,"v":0.045}],
"zoo_l":[{"day":0,"v":0.02},{"day":9,"v":0.02},{"day":17,"v":0.018},{"day":23,"v":0.025},{"day":29,"v":0.015},{"day":37,"v":0.02},{"day":44,"v":0.016},{"day":52,"v":0.02},{"day":60,"v":0.018},{"day":68,"v":0.025},{"day":76,"v":0.02},{"day":84,"v":0.03},{"day":92,"v":0.05},{"day":96,"v":0.03},{"day":102,"v":0.06},{"day":106,"v":0.04},{"day":110,"v":0.05},{"day":114,"v":0.03},{"day":122,"v":0.06},{"day":128,"v":0.03},{"day":134,"v":0.02},{"day":140,"v":0.015},{"day":146,"v":0.03},{"day":152,"v":0.045},{"day":156,"v":0.04},{"day":160,"v":0.02},{"day":163,"v":0.07},{"day":168,"v":0.04},{"day":172,"v":0.035},{"day":174,"v":0.06},{"day":182,"v":0.055},{"day":188,"v":0.075},{"day":191,"v":0.06},{"day":195,"v":0.075},{"day":199,"v":0.04},{"day":203,"v":0.035},{"day":207,"v":0.06},{"day":213,"v":0.1},{"day":217,"v":0.07},{"day":221,"v":0.06},{"day":225,"v":0.08},{"day":229,"v":0.05},{"day":232,"v":0.06},{"day":234,"v":0.12},{"day":237,"v":0.02},{"day":239,"v":0.05},{"day":242,"v":0.14},{"day":245,"v":0.03},{"day":248,"v":0.1},{"day":250,"v":0.02},{"day":252,"v":0.11},{"day":255,"v":0.03},{"day":259,"v":0.07},{"day":263,"v":0.03},{"day":267,"v":0.07},{"day":271,"v":0.04},{"day":277,"v":0.08},{"day":281,"v":0.05},{"day":287,"v":0.03},{"day":291,"v":0.04},{"day":295,"v":0.02},{"day":303,"v":0.03},{"day":311,"v":0.02},{"day":319,"v":0.03},{"day":327,"v":0.025},{"day":335,"v":0.03},{"day":343,"v":0.02},{"day":351,"v":0.03},{"day":359,"v":0.022},{"day":367,"v":0.03},{"day":375,"v":0.025},{"day":383,"v":0.03},{"day":391,"v":0.028}],
"tn_u":[{"day":0,"v":0.1},{"day":6,"v":0.3},{"day":10,"v":0.45},{"day":14,"v":0.55},{"day":18,"v":0.6},{"day":24,"v":0.7},{"day":28,"v":0.6},{"day":32,"v":0.65},{"day":35,"v":0.55},{"day":41,"v":0.6},{"day":49,"v":0.75},{"day":53,"v":0.5},{"day":59,"v":0.55},{"day":65,"v":0.6},{"day":71,"v":0.35},{"day":75,"v":0.5},{"day":83,"v":0.45},{"day":89,"v":0.6},{"day":95,"v":0.5},{"day":103,"v":0.7},{"day":109,"v":0.5},{"day":115,"v":0.7},{"day":119,"v":0.45},{"day":127,"v":0.55},{"day":131,"v":0.4},{"day":135,"v":0.83},{"day":139,"v":0.55},{"day":143,"v":0.6},{"day":149,"v":0.35},{"day":155,"v":0.5},{"day":159,"v":0.4},{"day":165,"v":0.9},{"day":169,"v":0.5},{"day":173,"v":0.65},{"day":177,"v":0.55},{"day":183,"v":0.4},{"day":187,"v":0.7},{"day":191,"v":0.55},{"day":195,"v":0.62},{"day":199,"v":0.5},{"day":203,"v":0.6},{"day":207,"v":0.7},{"day":211,"v":0.5},{"day":215,"v":0.55},{"day":219,"v":0.68},{"day":223,"v":0.65},{"day":227,"v":0.5},{"day":231,"v":0.6},{"day":235,"v":0.52},{"day":239,"v":0.7},{"day":243,"v":0.6},{"day":247,"v":0.55},{"day":250,"v":0.7},{"day":254,"v":0.75},{"day":258,"v":0.55},{"day":262,"v":0.6},{"day":266,"v":0.5},{"day":270,"v":0.7},{"day":274,"v":0.6},{"day":278,"v":0.5},{"day":282,"v":0.72},{"day":286,"v":0.65},{"day":290,"v":0.55},{"day":294,"v":0.5},{"day":298,"v":0.65},{"day":302,"v":0.75},{"day":306,"v":0.6},{"day":310,"v":0.55},{"day":314,"v":0.7},{"day":318,"v":0.8},{"day":322,"v":0.6},{"day":326,"v":0.6},{"day":330,"v":0.72},{"day":334,"v":0.85},{"day":338,"v":0.6},{"day":342,"v":0.65},{"day":346,"v":0.75},{"day":350,"v":0.85},{"day":354,"v":0.55},{"day":358,"v":0.6},{"day":362,"v":0.75},{"day":366,"v":0.7},{"day":372,"v":0.5},{"day":378,"v":0.75},{"day":384,"v":0.6},{"day":388,"v":0.65},{"day":391,"v":0.55}],
"tn_l":[{"day":0,"v":0.1},{"day":6,"v":0.2},{"day":12,"v":0.35},{"day":16,"v":0.25},{"day":22,"v":0.3},{"day":26,"v":0.45},{"day":30,"v":0.3},{"day":35,"v":0.35},{"day":39,"v":0.3},{"day":47,"v":0.28},{"day":55,"v":0.3},{"day":63,"v":0.2},{"day":71,"v":0.25},{"day":79,"v":0.3},{"day":87,"v":0.28},{"day":95,"v":0.32},{"day":103,"v":0.3},{"day":111,"v":0.35},{"day":119,"v":0.3},{"day":127,"v":0.38},{"day":135,"v":0.35},{"day":143,"v":0.4},{"day":151,"v":0.3},{"day":157,"v":0.28},{"day":163,"v":0.32},{"day":171,"v":0.4},{"day":179,"v":0.35},{"day":187,"v":0.42},{"day":195,"v":0.5},{"day":203,"v":0.45},{"day":211,"v":0.4},{"day":219,"v":0.38},{"day":227,"v":0.4},{"day":235,"v":0.35},{"day":243,"v":0.42},{"day":250,"v":0.38},{"day":258,"v":0.45},{"day":266,"v":0.35},{"day":274,"v":0.48},{"day":282,"v":0.32},{"day":290,"v":0.4},{"day":298,"v":0.3},{"day":306,"v":0.45},{"day":314,"v":0.3},{"day":322,"v":0.4},{"day":326,"v":0.3},{"day":330,"v":0.55},{"day":336,"v":0.35},{"day":342,"v":0.42},{"day":350,"v":0.3},{"day":358,"v":0.35},{"day":366,"v":0.28},{"day":374,"v":0.3},{"day":382,"v":0.27},{"day":391,"v":0.3}],
"tn_obs":[{"day":45,"u":0.59,"l":0.44},{"day":77,"u":0.36,"l":0.29},{"day":93,"u":0.6,"l":0.31},{"day":146,"u":0.37,"l":0.44},{"day":159,"u":0.19,"l":0.25},{"day":193,"u":0.64,"l":0.34},{"day":220,"u":0.39,"l":0.27},{"day":262,"u":0.77,"l":0.58},{"day":282,"u":0.67,"l":0.54},{"day":309,"u":0.78,"l":0.5},{"day":354,"u":0.5,"l":0.48},{"day":366,"u":0.69,"l":0.56}]
},
"config":{
"view":{"stroke":"#000","strokeWidth":2},
"axis":{"domainColor":"#444","domainWidth":1.5,"tickColor":"#444","tickWidth":1,"labelFont":"Liberation Sans","labelFontSize":10,"labelColor":"#333","gridColor":"#d8d8d8","gridWidth":1,"grid":false,"labelFlush":false,"labelOverlap":false,"labelBound":false},
"axisY":{"titleFont":"DejaVu Sans Mono","titleFontStyle":"italic","titleFontWeight":"normal","titleFontSize":11.5,"titleColor":"#999","titleAngle":-90,"titleAlign":"center","titleBaseline":"middle","titleY":105},
"axisX":{"titleFont":"Liberation Sans","titleFontSize":10.5,"titleFontWeight":"normal","titleColor":"#000","titleAlign":"right","titleBaseline":"top","titleAngle":0,"titleY":8}
}
}
